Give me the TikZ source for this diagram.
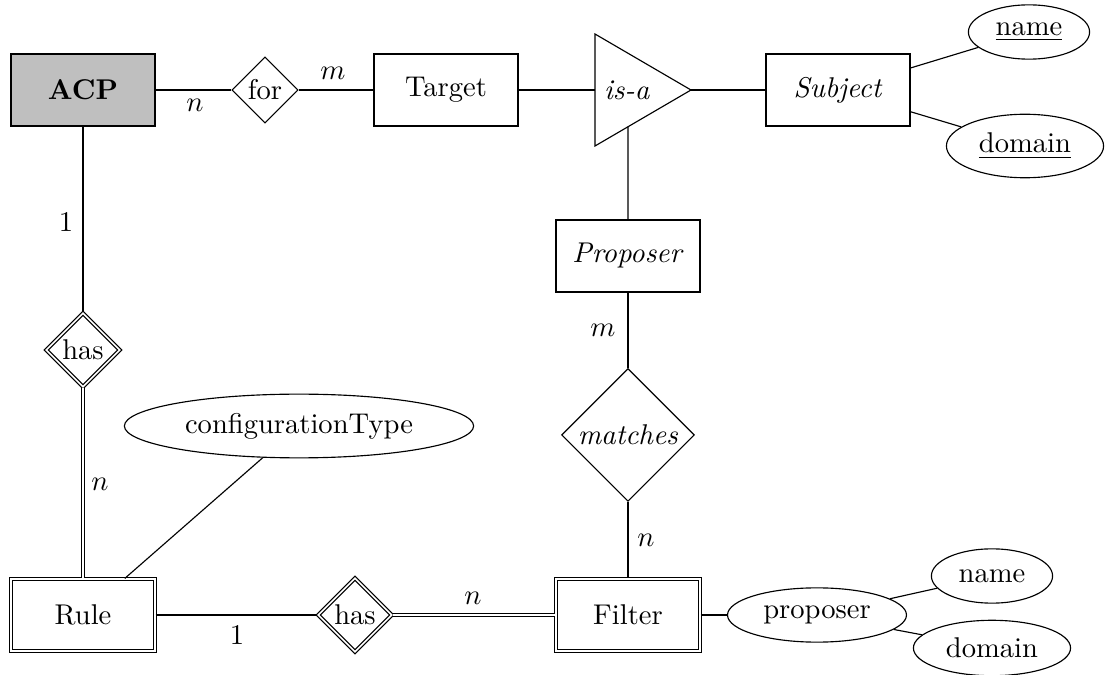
\documentclass[tikz,border=0pt]{standalone}
\usetikzlibrary{shapes.geometric,calc}
\begin{document}
\begin{tikzpicture}[x=0.35pt,y=-0.35pt,
  entity/.style={draw,rectangle,minimum width=50.4pt,minimum height=25.2pt,inner sep=2pt},
  weakentity/.style={entity,double},
  relation/.style={draw,diamond,aspect=1,inner sep=1pt},
  weakrelation/.style={relation,double},
  attribute/.style={draw,ellipse,minimum height=19pt},
  card/.style={inner sep=0pt},
  idline/.style={double}
]
\useasboundingbox (0,0) rectangle (1110,675);

% entities
\node[entity,fill=lightgray] (acp) at (83,90) {\textbf{ACP}};
\node[entity] (target) at (446,90) {Target};
\node[entity] (subject) at (838,90) {\textit{Subject}};
\node[entity] (proposerE) at (628,256) {\textit{Proposer}};
\node[weakentity] (rule) at (83,615) {Rule};
\node[weakentity] (filter) at (628,615) {Filter};

% relationships
\node[relation,minimum width=22.75pt,minimum height=22.75pt] (for) at (265,90) {for};
\node[relation,minimum width=46.5pt,minimum height=46.5pt] (matches) at (628,435) {\textit{matches}};
\node[weakrelation,minimum width=25.9pt,minimum height=25.9pt] (hasA) at (83,350) {has};
\node[weakrelation,minimum width=25.9pt,minimum height=25.9pt] (hasB) at (355,615) {has};

% specialisation triangle
\coordinate (isaNW) at (595,34);
\coordinate (isaSW) at (595,146);
\coordinate (isaE) at (691,90);
\coordinate (isaW) at (595,90);
\coordinate (isaS) at ($(isaSW)!0.344!(isaE)$);
\draw (isaNW) -- (isaE) -- (isaSW) -- cycle;
\node (isa) at (627,90) {\textit{is-a}};

% attributes
\node[attribute] (sname) at (1029,32) {\underline{name}};
\node[attribute] (sdomain) at (1025,146) {\underline{domain}};
\node[attribute] (ctype) at (299,426) {configurationType};
\node[attribute] (pattr) at (817,615) {proposer};
\node[attribute] (pname) at (992,576) {name};
\node[attribute] (pdomain) at (992,648) {domain};

% connectors
\draw (acp) -- (for);
\draw (for) -- (target);
\draw (target) -- (isaW);
\draw[semithick] (isaE) -- (subject);
\draw (proposerE) -- (isaS);
\draw (proposerE) -- (matches);
\draw (matches) -- (filter);
\draw (acp) -- (hasA);
\draw[idline] (hasA) -- (rule);
\draw (rule) -- (hasB);
\draw[idline] (hasB) -- (filter);
\draw (rule) -- (ctype);
\draw (subject) -- (sname);
\draw (subject) -- (sdomain);
\draw (filter) -- (pattr);
\draw (pattr) -- (pname);
\draw (pattr) -- (pdomain);

% cardinalities
\node[card] (c1) at (195,105) {$n$};
\node[card] (c2) at (333,73) {$m$};
\node[card] (c3) at (66,222) {$1$};
\node[card] (c4) at (100,484) {$n$};
\node[card] (c5) at (237,635) {$1$};
\node[card] (c6) at (473,598) {$n$};
\node[card] (c7) at (603,330) {$m$};
\node[card] (c8) at (646,540) {$n$};
\end{tikzpicture}
\end{document}
